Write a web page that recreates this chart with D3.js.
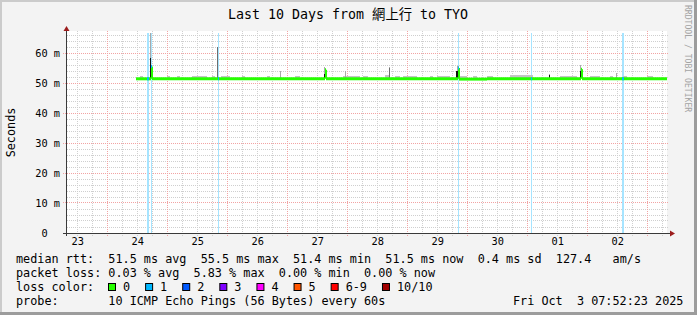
<!DOCTYPE html>
<html>
<head>
<meta charset="utf-8">
<script src="https://cdn.jsdelivr.net/npm/d3@7"></script>
<style>
body { margin: 0; background: #f3f3f3; }
svg { display: block; }
text { font-family: "DejaVu Sans Mono", "Noto Sans CJK TC", monospace; fill: #000; }
</style>
</head>
<body>
<svg id="drawing_region"></svg>
<script>
// ---- data ----
const titleText = "Last 10 Days from 網上行 to TYO";
const yLabel = "Seconds";
const endTime = "2025-10-03 07:52:23";
const dayTicks = ["2025-09-23 12:00", "2025-09-24 12:00", "2025-09-25 12:00", "2025-09-26 12:00",
                  "2025-09-27 12:00", "2025-09-28 12:00", "2025-09-29 12:00", "2025-09-30 12:00",
                  "2025-10-01 12:00", "2025-10-02 12:00"];
const yTicks = [0, 10, 20, 30, 40, 50, 60];

// median rtt (ms), step series
const medianTimes = ["2025-09-24 11:40", "2025-09-24 17:28", "2025-09-24 17:52", "2025-09-27 15:04",
                     "2025-09-27 15:28", "2025-09-29 20:16", "2025-09-29 20:40", "2025-09-30 08:00",
                     "2025-10-01 21:28", "2025-10-01 21:52", "2025-10-03 07:52"];
const medianVals  = [51.4, 55.5, 51.4, 54.4, 51.4, 55.0, 51.3, 51.4, 54.6, 51.4, 51.4];

// periods with lost pings (1 of 10)
const lossStart = ["2025-09-24 15:52", "2025-09-24 17:28", "2025-09-25 20:16", "2025-09-29 20:16",
                   "2025-10-01 01:28", "2025-10-02 13:52"];
const lossEnd   = ["2025-09-24 16:40", "2025-09-24 17:52", "2025-09-25 20:40", "2025-09-29 20:40",
                   "2025-10-01 01:52", "2025-10-02 14:40"];
const lossCount = [1, 1, 1, 1, 1, 1];

// low smoke just above the median
const smokeStart = ["2025-09-24 13:04", "2025-09-24 23:52", "2025-09-25 03:52", "2025-09-25 09:52",
                    "2025-09-25 17:52", "2025-09-25 21:28", "2025-09-26 05:52", "2025-09-26 15:52",
                    "2025-09-27 03:04", "2025-09-27 22:16", "2025-09-28 06:16", "2025-09-28 15:04",
                    "2025-09-28 19:04", "2025-09-28 22:16", "2025-09-29 09:04", "2025-09-29 11:52",
                    "2025-09-29 21:04", "2025-09-30 02:16", "2025-09-30 07:52", "2025-09-30 17:04",
                    "2025-10-01 13:04", "2025-10-02 01:04", "2025-10-02 09:04", "2025-10-02 14:16",
                    "2025-10-02 23:52"];
const smokeEnd   = ["2025-09-24 14:16", "2025-09-25 01:04", "2025-09-25 05:04", "2025-09-25 15:52",
                    "2025-09-25 19:04", "2025-09-26 01:04", "2025-09-26 07:04", "2025-09-26 17:04",
                    "2025-09-27 05:04", "2025-09-28 05:04", "2025-09-28 08:16", "2025-09-28 17:04",
                    "2025-09-28 21:04", "2025-09-29 03:52", "2025-09-29 10:16", "2025-09-29 17:04",
                    "2025-09-29 23:52", "2025-09-30 03:52", "2025-09-30 10:16", "2025-10-01 02:16",
                    "2025-10-01 19:52", "2025-10-02 05:04", "2025-10-02 10:16", "2025-10-02 15:52",
                    "2025-10-03 02:16"];
const smokeTop   = [52.3, 52.2, 52.4, 52.2, 52.3, 52.2, 52.4, 52.2, 52.3, 52.2, 52.4, 52.6,
                    52.3, 52.2, 52.4, 52.2, 52.2, 52.4, 52.3, 52.8, 52.3, 52.2, 52.4, 52.3, 52.4];

// single spikes: light / mid / dark smoke tops (ms)
const spikeTimes = ["2025-09-24 17:28", "2025-09-25 20:16", "2025-09-26 21:28", "2025-09-27 15:04",
                    "2025-09-27 23:28", "2025-09-28 17:04", "2025-09-29 19:52", "2025-09-29 20:16",
                    "2025-10-01 09:04", "2025-10-01 21:28", "2025-10-02 11:52"];
const spikeLight = [66.7, 57.0, 54.0, 55.3, 54.1, 55.3, 54.1, 55.7, 53.0, 56.0, 53.4];
const spikeMid   = [null, 62.0, null, null, null, 55.0, null, null, null, null, null];
const spikeDark  = [58.2, null, null, 53.0, null, null, 54.1, 54.1, 52.6, 54.0, null];

// legend
const lossLabels = ["0", "1", "2", "3", "4", "5", "6-9", "10/10"];
const lossColors = ["#26ff00", "#00b8ff", "#0059ff", "#7e00ff", "#ff00ff", "#ff5500", "#ff0000", "#a10000"];
const rttStats  = ["51.5 ms avg", "55.5 ms max", "51.4 ms min", "51.5 ms now", "0.4 ms sd", "127.4   am/s"];
const lossStats = ["0.03 % avg", "5.83 % max", "0.00 % min", "0.00 % now"];
const probeText = "10 ICMP Echo Pings (56 Bytes) every 60s";
const dateText = "Fri Oct  3 07:52:23 2025";
const watermark = "RRDTOOL / TOBI OETIKER";

// ---- chart ----
const W = 697, H = 315;
const parse = d3.utcParse("%Y-%m-%d %H:%M");
const tEnd = d3.utcParse("%Y-%m-%d %H:%M:%S")(endTime);
const tStart = d3.utcDay.offset(tEnd, -10);
const keep = s => s.replace(/ /g, '\u00a0');   // keep runs of spaces

const svg = d3.select('#drawing_region').attr('width', W).attr('height', H);

// frame
svg.append('rect').attr('width', W).attr('height', H).attr('fill', '#f3f3f3');
svg.append('rect').attr('x', 0).attr('y', 0).attr('width', W).attr('height', 2).attr('fill', '#cbcbcb');
svg.append('rect').attr('x', 0).attr('y', 0).attr('width', 2).attr('height', H).attr('fill', '#cbcbcb');
svg.append('rect').attr('x', 0).attr('y', H - 3).attr('width', W).attr('height', 3).attr('fill', '#9c9c9c');
svg.append('rect').attr('x', W - 3).attr('y', 0).attr('width', 3).attr('height', H).attr('fill', '#9c9c9c');

const pLeft = 67, pRight = 667, pTop = 33, pBottom = 233;
const xscale = d3.scaleUtc().domain([tStart, tEnd]).range([pLeft, pRight]);
const yscale = d3.scaleLinear().domain([0, 200 / 3]).range([pBottom, pTop]);
const crisp = v => Math.floor(v) + 0.5;

svg.append('rect').attr('x', pLeft).attr('y', pTop - 2).attr('width', pRight - pLeft).attr('height', pBottom - pTop + 2)
    .attr('fill', '#ffffff');

// grid
const grid = svg.append('g').attr('stroke-dasharray', '1,1').attr('stroke-width', 1);
const minorY = d3.range(2, 67, 2).filter(v => v % 10 !== 0);
const majorY = d3.range(10, 67, 10);
grid.selectAll('.gy').data(minorY).join('line')
    .attr('x1', pLeft).attr('x2', pRight + 2)
    .attr('y1', d => crisp(yscale(d))).attr('y2', d => crisp(yscale(d)))
    .attr('stroke', '#cfcfcf');
const hours = d3.utcHour.every(6).range(tStart, tEnd).filter(d => d.getUTCHours() !== 0);
const days = d3.utcDay.range(tStart, tEnd).filter(d => d > tStart);
grid.selectAll('.gx').data(hours).join('line')
    .attr('x1', d => crisp(xscale(d))).attr('x2', d => crisp(xscale(d)))
    .attr('y1', pTop - 2).attr('y2', pBottom + 3)
    .attr('stroke', '#cfcfcf');
grid.selectAll('.my').data(majorY).join('line')
    .attr('x1', pLeft - 4).attr('x2', pRight + 2)
    .attr('y1', d => crisp(yscale(d))).attr('y2', d => crisp(yscale(d)))
    .attr('stroke', '#f2a3a3');
grid.selectAll('.mx').data(days).join('line')
    .attr('x1', d => crisp(xscale(d))).attr('x2', d => crisp(xscale(d)))
    .attr('y1', pTop - 2).attr('y2', pBottom + 3)
    .attr('stroke', '#f2a3a3');

// loss background bars
const losses = lossStart.map((s, i) => ({t0: parse(s), t1: parse(lossEnd[i]), n: lossCount[i]}));
const lossBg = ["#ffffff", "#a6e4ff"];
svg.append('g').selectAll('rect').data(losses).join('rect')
    .attr('x', d => Math.round(xscale(d.t0)))
    .attr('width', d => Math.max(1, Math.round(xscale(d.t1)) - Math.round(xscale(d.t0))))
    .attr('y', pTop).attr('height', pBottom - pTop)
    .attr('fill', d => lossBg[d.n]);

// smoke
const base = 51.4;
const smoke = smokeStart.map((s, i) => ({t0: parse(s), t1: parse(smokeEnd[i]), v: smokeTop[i]}));
svg.append('g').selectAll('rect').data(smoke).join('rect')
    .attr('x', d => Math.round(xscale(d.t0)))
    .attr('width', d => Math.max(1, Math.round(xscale(d.t1)) - Math.round(xscale(d.t0))))
    .attr('y', d => Math.round(yscale(d.v)))
    .attr('height', d => yscale(base) - Math.round(yscale(d.v)))
    .attr('fill', '#c4c4c4');

const spikes = spikeTimes.map((s, i) => ({t: parse(s), light: spikeLight[i], mid: spikeMid[i], dark: spikeDark[i]}));
[['light', '#a9a9a9'], ['mid', '#6e6e6e'], ['dark', '#141414']].forEach(([key, col]) => {
    svg.append('g').selectAll('rect').data(spikes.filter(d => d[key] != null)).join('rect')
	.attr('x', d => Math.floor(xscale(d.t)))
	.attr('width', 1)
	.attr('y', d => Math.round(yscale(d[key])))
	.attr('height', d => yscale(base) - Math.round(yscale(d[key])))
	.attr('fill', col);
});

// median line
const median = medianTimes.map((s, i) => ({t: parse(s), v: medianVals[i]}));
const segs = d3.pairs(median);
const mg = svg.append('g').attr('fill', 'none');
mg.selectAll('.h').data(segs).join('path')
    .attr('d', ([a, b]) => `M${Math.round(xscale(a.t))},${yscale(a.v)}H${Math.round(xscale(b.t))}`)
    .attr('stroke', lossColors[0]).attr('stroke-width', 3);
mg.selectAll('.v').data(segs).join('path')
    .attr('d', ([a, b]) => `M${Math.round(xscale(b.t)) + 0.5},${yscale(a.v)}V${yscale(b.v)}`)
    .attr('stroke', lossColors[0]).attr('stroke-width', 1);
const bis = d3.bisector(d => d.t).right;
const medianAt = t => median[Math.max(0, bis(median, t) - 1)].v;
mg.selectAll('.l').data(losses).join('path')
    .attr('d', d => `M${Math.round(xscale(d.t0))},${yscale(medianAt(d.t0))}H${Math.max(Math.round(xscale(d.t0)) + 1, Math.round(xscale(d.t1)))}`)
    .attr('stroke', d => lossColors[d.n]).attr('stroke-width', 3);

// axes
const axisCol = '#3a3a3a', arrowCol = '#9b1c1c';
svg.append('line').attr('x1', pLeft - 0.5).attr('x2', pLeft - 0.5).attr('y1', pBottom + 3).attr('y2', pTop - 4)
    .attr('stroke', axisCol);
svg.append('line').attr('x1', pLeft - 4).attr('x2', pRight + 3).attr('y1', pBottom + 0.5).attr('y2', pBottom + 0.5)
    .attr('stroke', axisCol);
svg.append('path').attr('d', `M${pLeft - 0.5},${pTop - 7}L${pLeft - 3.5},${pTop - 2}L${pLeft + 2.5},${pTop - 2}Z`).attr('fill', arrowCol);
svg.append('path').attr('d', `M${pRight + 8},${pBottom + 0.5}L${pRight + 3},${pBottom - 2.5}L${pRight + 3},${pBottom + 3.5}Z`).attr('fill', arrowCol);

const xaxis = d3.axisBottom(xscale)
    .tickValues(dayTicks.map(parse))
    .tickFormat(d3.utcFormat('%d'))
    .tickSize(0);
const xg = svg.append('g').attr('transform', `translate(0,${pBottom})`).call(xaxis);
xg.select('.domain').remove();
xg.selectAll('text').attr('dy', null).attr('y', 12)
    .style('font-family', '"DejaVu Sans Mono", monospace').style('font-size', '10.3px').style('fill', '#000');

const yaxis = d3.axisLeft(yscale)
    .tickValues(yTicks)
    .tickFormat(d => d === 0 ? '0\u00a0\u00a0' : d + '\u00a0m')
    .tickSize(0)
    .tickPadding(7);
const yg = svg.append('g').attr('transform', `translate(${pLeft},0)`).call(yaxis);
yg.select('.domain').remove();
yg.selectAll('text').attr('dy', '0.3em')
    .style('font-family', '"DejaVu Sans Mono", monospace').style('font-size', '10.3px').style('fill', '#000');

// texts
svg.append('text').attr('x', 348).attr('y', 19).attr('text-anchor', 'middle')
    .style('font-size', '13.3px').text(titleText);
svg.append('text').attr('transform', 'translate(15,132.5) rotate(-90)').attr('text-anchor', 'middle')
    .style('font-size', '11.8px').text(yLabel);
svg.append('text').attr('transform', 'translate(685,5) rotate(90)')
    .style('font-size', '8.1px').style('fill', '#a3a3a3').text(keep(watermark));

const lg = svg.append('g').style('font-size', '11.8px');
const lx = 16, ly = [263, 277, 291, 305];
lg.append('text').attr('x', lx).attr('y', ly[0]).text(keep('median rtt:  ' + rttStats.join('  ')));
lg.append('text').attr('x', lx).attr('y', ly[1]).text(keep('packet loss: ' + lossStats.join('  ')));
lg.append('text').attr('x', lx).attr('y', ly[2]).text(keep('loss color:'));
lg.append('text').attr('x', lx).attr('y', ly[3]).text(keep('probe:       ' + probeText));
lg.append('text').attr('x', 513).attr('y', ly[3]).text(keep(dateText));

let sx = 108;
lossLabels.forEach((lab, i) => {
    lg.append('rect').attr('x', sx + 0.5).attr('y', ly[2] - 7.5).attr('width', 7).attr('height', 7)
	.attr('fill', lossColors[i]).attr('stroke', '#000').attr('stroke-width', 1);
    const t = lg.append('text').attr('x', sx + 15).attr('y', ly[2]).text(lab);
    sx = sx + 15 + t.node().getComputedTextLength() + 15;
});
</script>
</body>
</html>
